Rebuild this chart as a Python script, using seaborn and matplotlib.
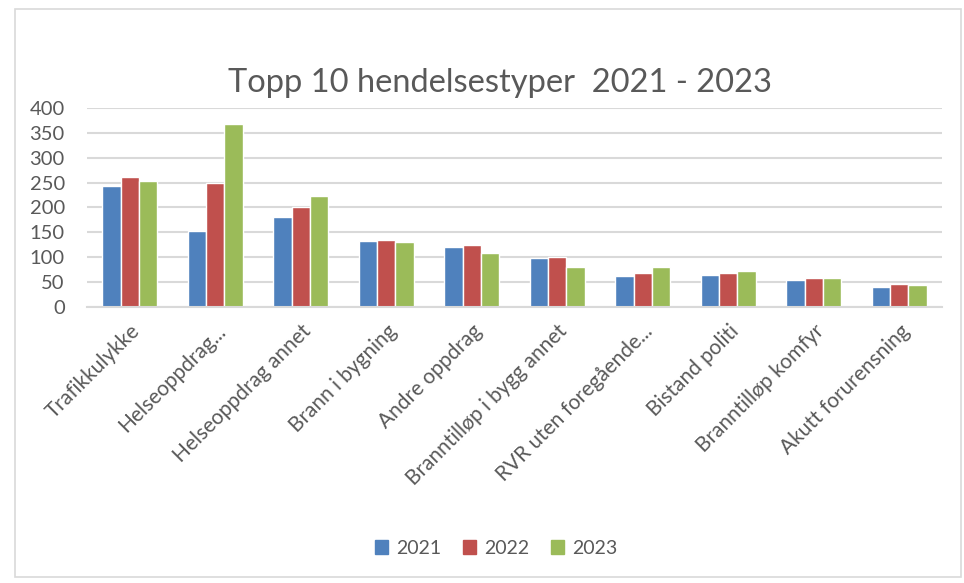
import matplotlib
matplotlib.use("Agg")
import matplotlib.pyplot as plt
import seaborn as sns
import pandas as pd
from matplotlib.patches import Rectangle

categories = ["Trafikkulykke", "Helseoppdrag...", "Helseoppdrag annet", "Brann i bygning",
              "Andre oppdrag", "Branntilløp i bygg annet", "RVR uten foregående...",
              "Bistand politi", "Branntilløp komfyr", "Akutt forurensning"]
years = ["2021", "2022", "2023"]
v2021 = [243, 153, 181, 133, 120, 98, 62, 65, 55, 41]
v2022 = [261, 250, 202, 135, 125, 101, 68, 68, 58, 47]
v2023 = [253, 367, 223, 130, 109, 80, 80, 73, 58, 44]
yticks = [0, 50, 100, 150, 200, 250, 300, 350, 400]
colors = ["#4F81BD", "#C0504D", "#9BBB59"]

rows = []
for yr, vals in zip(years, [v2021, v2022, v2023]):
    for c, v in zip(categories, vals):
        rows.append({"cat": c, "year": yr, "val": v})
df = pd.DataFrame(rows)

sns.set_theme(style="white")
plt.rcParams['font.family'] = ['Lato', 'DejaVu Sans']
txt = "#595959"

fig = plt.figure(figsize=(9.64, 5.83), dpi=100)
fig.patches.append(Rectangle((15/964, 6/583), 946/964, 568/583, transform=fig.transFigure,
                             fill=False, edgecolor="#D9D9D9", linewidth=1.2))
ax = fig.add_axes([87/964, 1-307/583, 855/964, 199/583])
sns.barplot(data=df, x="cat", y="val", hue="year", palette=colors, width=0.64,
            saturation=1, edgecolor="white", linewidth=1, ax=ax, legend=True)
ax.set_ylim(0, 400)
ax.set_xlim(-0.5, 9.5)
ax.set_yticks(yticks)
ax.set_yticklabels([str(t) for t in yticks], fontsize=14.5, color=txt)
ax.yaxis.grid(True, color="#D9D9D9", linewidth=1.5)
ax.set_axisbelow(True)
for s in ["top", "right", "left"]:
    ax.spines[s].set_visible(False)
ax.spines["bottom"].set_color("#D9D9D9")
ax.spines["bottom"].set_linewidth(1.5)
ax.tick_params(axis="y", length=0, pad=16)
ax.tick_params(axis="x", length=0, pad=10)
ax.set_xticks(range(len(categories)))
ax.set_xticklabels(categories, rotation=45, ha="right", rotation_mode="anchor",
                   fontsize=15, color=txt)
ax.set_xlabel("")
ax.set_ylabel("")
ax.legend_.remove()
fig.text(500/964, 1-83/583, "Topp 10 hendelsestyper  2021 - 2023", ha="center", va="center",
         fontsize=23.5, color=txt)
handles = [Rectangle((0, 0), 1, 1, color=c) for c in colors]
fig.legend(handles, years, loc="center", bbox_to_anchor=(496/964, 1-548/583), ncol=3,
           frameon=False, fontsize=14, labelcolor=txt, handlelength=0.7, handleheight=0.7,
           handletextpad=0.4, columnspacing=1.1)
fig.savefig("out.png", dpi=100)
